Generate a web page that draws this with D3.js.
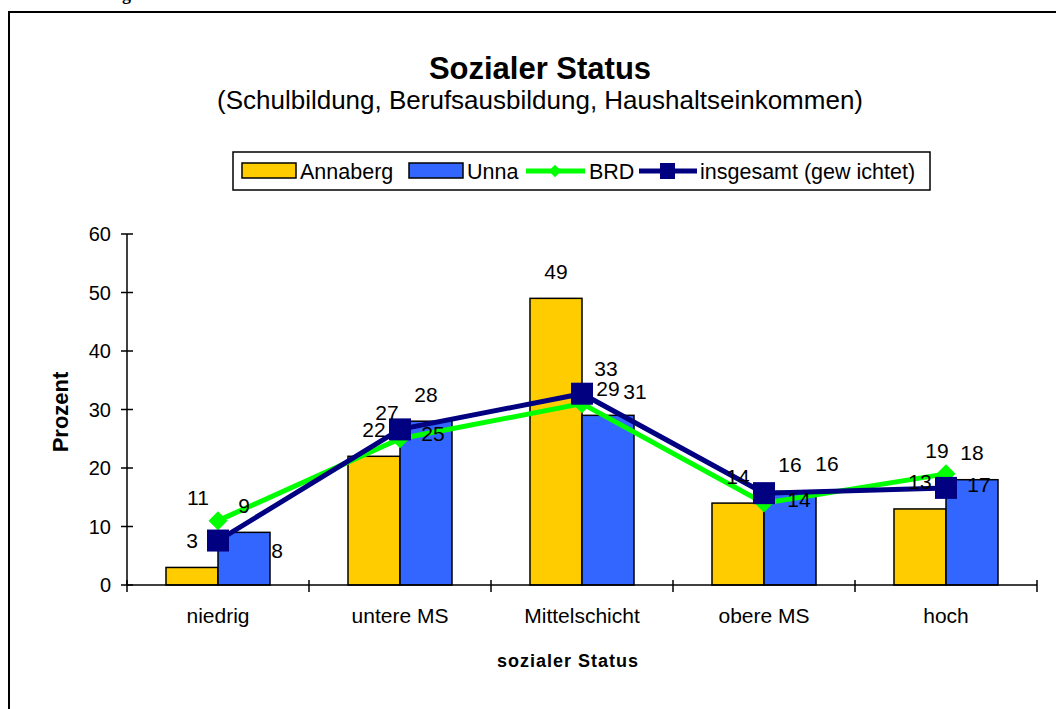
<!DOCTYPE html>
<html>
<head>
<meta charset="utf-8">
<script src="https://cdn.jsdelivr.net/npm/d3@7"></script>
<style>
  body { margin: 0; background: #fff; }
  text { font-family: "Liberation Sans", Arial, sans-serif; fill: #000; }
</style>
</head>
<body>
<script>
// Daten
const categories = ["niedrig", "untere MS", "Mittelschicht", "obere MS", "hoch"];
const annaberg = [3, 22, 49, 14, 13];
const unna = [9, 28, 29, 16, 18];
const brd = [11, 25, 31, 14, 19];
const insgesamt = [7.6, 26.6, 32.7, 15.7, 16.6];
const yTicks = [0, 10, 20, 30, 40, 50, 60];

let svg = d3.select("body")
  .append("svg")
  .attr("width", 1056)
  .attr("height", 709)

// Rahmen (läuft rechts und unten aus dem Bild)
svg.append("rect")
  .attr("x", 9).attr("y", 12)
  .attr("width", 1100).attr("height", 800)
  .attr("fill", "none").attr("stroke", "#000").attr("stroke-width", 2)

// Rest der Überschrift oberhalb
svg.append("text")
  .attr("x", 131).attr("y", 0)
  .attr("text-anchor", "end")
  .style("font-family", "'Liberation Serif', serif")
  .style("font-weight", "bold").style("font-size", "18px")
  .text("Abbildung")

let plot = { left: 127, right: 1037, top: 234, bottom: 585 };

let x0 = d3.scaleBand()
  .domain(categories)
  .range([plot.left, plot.right])
  .padding(0)

let groupW = x0.bandwidth() / 1.75; // Abstand 75% wie in Excel
let x1 = d3.scaleBand()
  .domain(["Annaberg", "Unna"])
  .range([0, groupW])

let y = d3.scaleLinear()
  .domain([0, 60])
  .range([plot.bottom, plot.top])

let cx = (c) => x0(c) + x0.bandwidth() / 2

// Titel
svg.append("text")
  .attr("x", 540).attr("y", 79)
  .attr("text-anchor", "middle")
  .style("font-weight", "bold").style("font-size", "31px")
  .text("Sozialer Status")
svg.append("text")
  .attr("x", 540).attr("y", 109)
  .attr("text-anchor", "middle")
  .style("font-size", "26px")
  .text("(Schulbildung, Berufsausbildung, Haushaltseinkommen)")

// Balken
let barSeries = [
  { name: "Annaberg", values: annaberg, color: "#FFCC00" },
  { name: "Unna", values: unna, color: "#3366FF" }
]
let bars = svg.append("g")
barSeries.forEach((s) => {
  bars.selectAll(null)
    .data(s.values)
    .enter()
    .append("rect")
    .attr("x", (d, i) => cx(categories[i]) - groupW / 2 + x1(s.name))
    .attr("y", (d) => y(d))
    .attr("width", x1.bandwidth())
    .attr("height", (d) => y(0) - y(d))
    .attr("fill", s.color)
    .attr("stroke", "#000")
    .attr("stroke-width", 1.5)
})

// Achsen
let axes = svg.append("g").attr("stroke", "#000").attr("stroke-width", 1.5)
axes.append("line")
  .attr("x1", plot.left).attr("x2", plot.left)
  .attr("y1", plot.top).attr("y2", plot.bottom)
axes.append("line")
  .attr("x1", plot.left).attr("x2", plot.right)
  .attr("y1", plot.bottom).attr("y2", plot.bottom)
axes.selectAll(".yt")
  .data(yTicks)
  .enter()
  .append("line")
  .attr("x1", plot.left - 6).attr("x2", plot.left + 6)
  .attr("y1", (d) => y(d)).attr("y2", (d) => y(d))
let bounds = categories.map((c) => x0(c)).concat([plot.right])
axes.selectAll(".xt")
  .data(bounds)
  .enter()
  .append("line")
  .attr("x1", (d) => d).attr("x2", (d) => d)
  .attr("y1", plot.bottom - 5).attr("y2", plot.bottom + 7)

svg.append("g")
  .selectAll("text")
  .data(yTicks)
  .enter()
  .append("text")
  .attr("x", 111)
  .attr("y", (d) => y(d) + 7)
  .attr("text-anchor", "end")
  .style("font-size", "20px")
  .text((d) => d)

svg.append("g")
  .selectAll("text")
  .data(categories)
  .enter()
  .append("text")
  .attr("x", (d) => cx(d))
  .attr("y", 623)
  .attr("text-anchor", "middle")
  .style("font-size", "21px")
  .text((d) => d)

svg.append("text")
  .attr("x", 568).attr("y", 667)
  .attr("text-anchor", "middle")
  .style("font-weight", "bold").style("font-size", "18px")
  .style("letter-spacing", "1px")
  .text("sozialer Status")

svg.append("text")
  .attr("transform", "translate(68,412) rotate(-90)")
  .attr("text-anchor", "middle")
  .style("font-weight", "bold").style("font-size", "22px")
  .text("Prozent")

// Linien
let lineGen = d3.line()
  .x((d, i) => cx(categories[i]))
  .y((d) => y(d))

svg.append("path")
  .attr("d", lineGen(brd))
  .attr("fill", "none").attr("stroke", "#00FF00").attr("stroke-width", 5)
svg.append("g")
  .selectAll("path")
  .data(brd)
  .enter()
  .append("path")
  .attr("d", d3.symbol(d3.symbolDiamond2, 230))
  .attr("transform", (d, i) => `translate(${cx(categories[i])},${y(d)})`)
  .attr("fill", "#00FF00")

svg.append("path")
  .attr("d", lineGen(insgesamt))
  .attr("fill", "none").attr("stroke", "#000080").attr("stroke-width", 5)
svg.append("g")
  .selectAll("rect")
  .data(insgesamt)
  .enter()
  .append("rect")
  .attr("x", (d, i) => cx(categories[i]) - 11)
  .attr("y", (d) => y(d) - 11)
  .attr("width", 22).attr("height", 22)
  .attr("fill", "#000080")

// Datenbeschriftungen
let labels = svg.append("g").style("font-size", "21px").attr("text-anchor", "middle")
barSeries.forEach((s) => {
  labels.selectAll(null)
    .data(s.values)
    .enter()
    .append("text")
    .attr("x", (d, i) => cx(categories[i]) - groupW / 2 + x1(s.name) + x1.bandwidth() / 2)
    .attr("y", (d) => y(d) - 19.5)
    .text((d) => d)
})

// verschobene Beschriftungen der Linien (Versatz zum Marker)
let brdOff = [[-20, -23], [33, -5], [53, -12], [35, -4], [-9, -23]]
let insOff = [[59, 10], [-13, -17], [24, -25], [63, -30], [33, -3]]
let lineLabels = [[brd, brdOff], [insgesamt, insOff]]
lineLabels.forEach(([vals, off]) => {
  labels.selectAll(null)
    .data(vals)
    .enter()
    .append("text")
    .attr("x", (d, i) => cx(categories[i]) + off[i][0])
    .attr("y", (d, i) => y(d) + off[i][1] + 7.5)
    .text((d) => Math.round(d))
})

// Legende
let leg = svg.append("g").style("font-size", "21.5px")
leg.append("rect")
  .attr("x", 233).attr("y", 152)
  .attr("width", 697).attr("height", 38)
  .attr("fill", "#fff").attr("stroke", "#000").attr("stroke-width", 1.5)
leg.append("rect").attr("x", 242).attr("y", 163).attr("width", 54).attr("height", 15)
  .attr("fill", "#FFCC00").attr("stroke", "#000").attr("stroke-width", 1.5)
leg.append("text").attr("x", 300).attr("y", 179).text("Annaberg")
leg.append("rect").attr("x", 409).attr("y", 163).attr("width", 54).attr("height", 15)
  .attr("fill", "#3366FF").attr("stroke", "#000").attr("stroke-width", 1.5)
leg.append("text").attr("x", 467).attr("y", 179).text("Unna")
leg.append("line").attr("x1", 526).attr("x2", 585).attr("y1", 171).attr("y2", 171)
  .attr("stroke", "#00FF00").attr("stroke-width", 5)
leg.append("path").attr("d", d3.symbol(d3.symbolDiamond2, 100))
  .attr("transform", "translate(555,171)").attr("fill", "#00FF00")
leg.append("text").attr("x", 589).attr("y", 179).text("BRD")
leg.append("line").attr("x1", 639).attr("x2", 697).attr("y1", 171).attr("y2", 171)
  .attr("stroke", "#000080").attr("stroke-width", 5)
leg.append("rect").attr("x", 660).attr("y", 163).attr("width", 15).attr("height", 16)
  .attr("fill", "#000080")
leg.append("text").attr("x", 700).attr("y", 179).text("insgesamt (gew ichtet)")
</script>
</body>
</html>
